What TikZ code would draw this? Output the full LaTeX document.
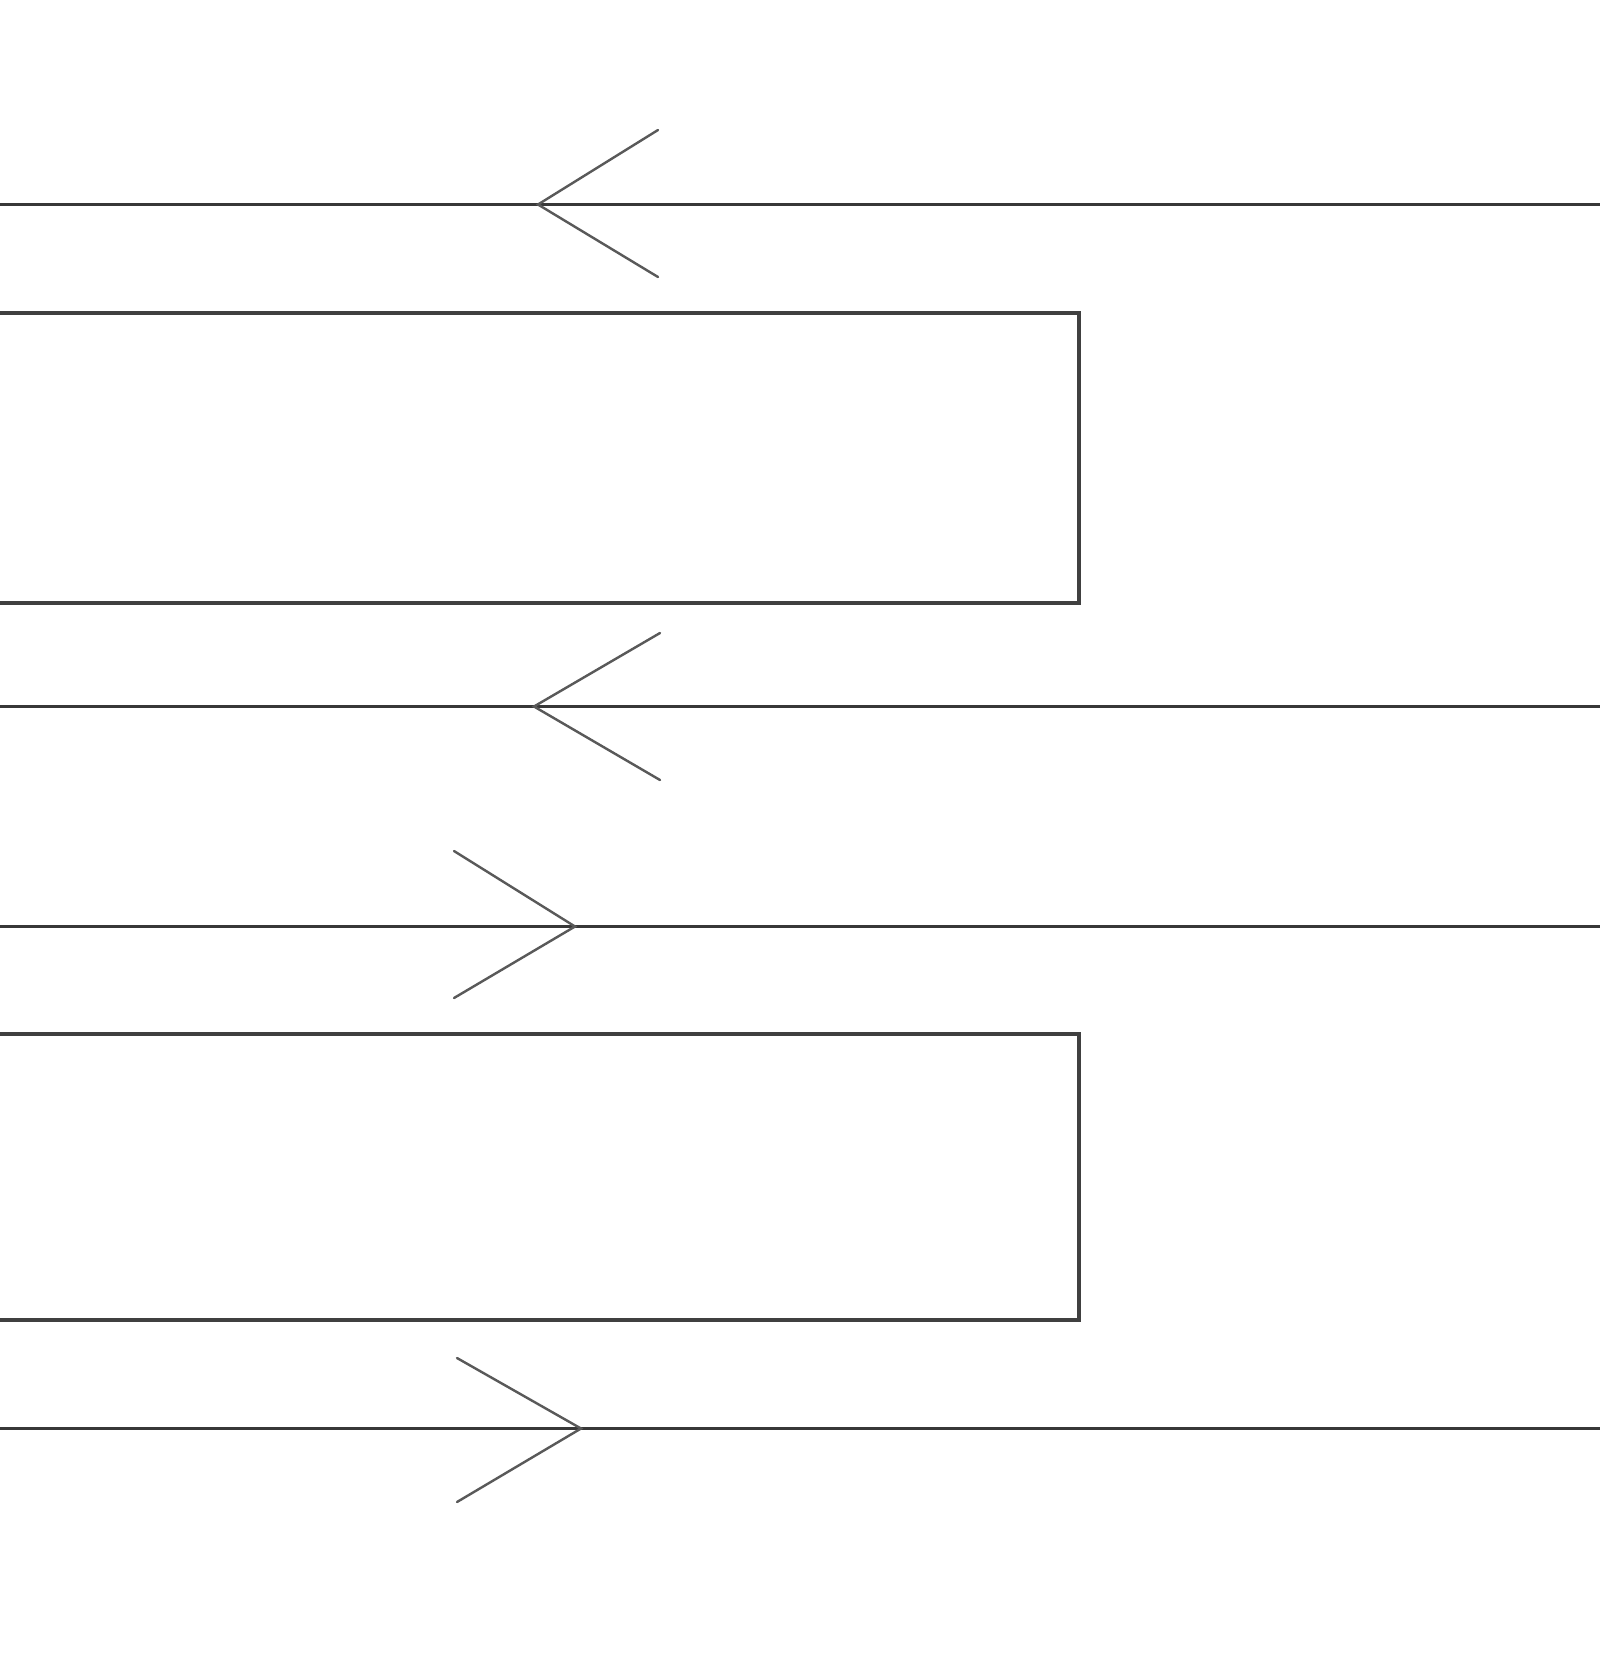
\documentclass[tikz,border=0pt]{standalone}
\begin{document}
\begin{tikzpicture}[x=0.5pt,y=-0.5pt,
  wire/.style={draw=black!78,line width=1.5pt},
  body/.style={draw=black!75,line width=1.6pt},
  chev/.style={draw=black!65,line width=1.2pt,line cap=round,line join=miter}]
\useasboundingbox[fill=white] (0,0) rectangle (1600,1660);
% lines
\coordinate (l1a) at (-10,204.5); \coordinate (l1b) at (1610,204.5);
\coordinate (l2a) at (-10,706.5); \coordinate (l2b) at (1610,706.5);
\coordinate (l3a) at (-10,926.5); \coordinate (l3b) at (1610,926.5);
\coordinate (l4a) at (-10,1428.5); \coordinate (l4b) at (1610,1428.5);
\draw[wire] (l1a) -- (l1b);
\draw[wire] (l2a) -- (l2b);
\draw[wire] (l3a) -- (l3b);
\draw[wire] (l4a) -- (l4b);
% boxes
\draw[body] (-10,313) -- (1079,313) -- (1079,603) -- (-10,603);
\draw[body] (-10,1034) -- (1079,1034) -- (1079,1320) -- (-10,1320);
% chevrons
\draw[chev] (658,130) -- (538,204.5) -- (658,277);
\draw[chev] (660,633) -- (534,706.5) -- (660,780);
\draw[chev] (454,851) -- (575,926.5) -- (454,998);
\draw[chev] (457,1358) -- (581,1428.5) -- (457,1502);
\end{tikzpicture}
\end{document}
